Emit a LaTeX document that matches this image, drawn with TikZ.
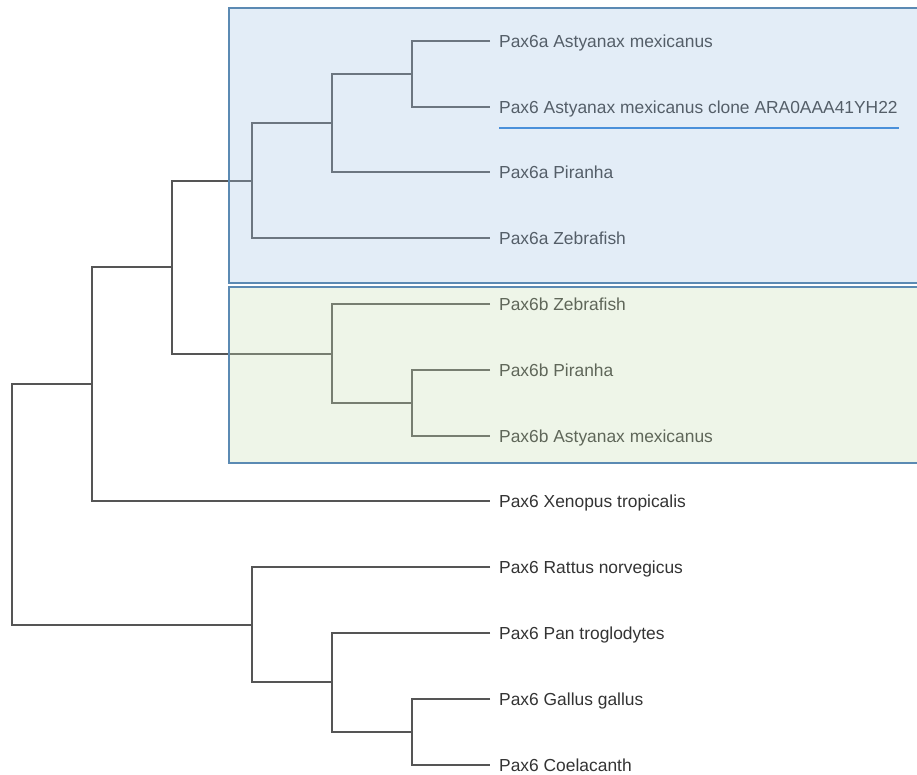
\documentclass[tikz,border=0pt]{standalone}
\usepackage{fontspec}
\setmainfont{Liberation Sans}
\definecolor{branch}{HTML}{555555}
\definecolor{labeltext}{HTML}{333333}
\definecolor{cladeblue}{RGB}{162,195,228}
\definecolor{cladegreen}{RGB}{198,222,178}
\definecolor{cladeedge}{HTML}{5B8AB3}
\definecolor{hiline}{HTML}{4A90DA}
\tikzset{
    leaf/.style={anchor=base west, inner sep=0pt, text=labeltext,
        font=\fontsize{17.4}{20}\selectfont},
    branchline/.style={draw=branch, line width=2pt},
    clade/.style={fill opacity=0.3, draw=none},
}
\begin{document}
\begin{tikzpicture}[x=1pt,y=-1pt]
    \useasboundingbox (0,0) rectangle (917,775);
    \clip (0,0) rectangle (917,775);
    % leaves
    \foreach \i/\y/\name in {1/41/Pax6a Astyanax mexicanus,
        2/107/Pax6 Astyanax mexicanus clone ARA0AAA41YH22,
        3/172/Pax6a Piranha, 4/238/Pax6a Zebrafish, 5/304/Pax6b Zebrafish,
        6/370/Pax6b Piranha, 7/436/Pax6b Astyanax mexicanus,
        8/501/Pax6 Xenopus tropicalis, 9/567/Pax6 Rattus norvegicus,
        10/633/Pax6 Pan troglodytes, 11/699/Pax6 Gallus gallus,
        12/765/Pax6 Coelacanth} {
        \coordinate (t\i) at (490, \y);
        \node[leaf] (l\i) at (499, \y+6.5) {\name};
    }
    % inner nodes
    \coordinate (nA) at (412, 74);
    \coordinate (nB) at (332, 123);
    \coordinate (nC) at (252, 181);
    \coordinate (nD) at (412, 403);
    \coordinate (nE) at (332, 354);
    \coordinate (nF) at (172, 267);
    \coordinate (nG) at (92, 384);
    \coordinate (nJ) at (412, 732);
    \coordinate (nI) at (332, 682);
    \coordinate (nH) at (252, 625);
    \coordinate (root) at (12, 505);
    % branches
    \draw[branchline] (t1) -| (nA) |- (t2);
    \draw[branchline] (nA) -| (nB) |- (t3);
    \draw[branchline] (nB) -| (nC) |- (t4);
    \draw[branchline] (t6) -| (nD) |- (t7);
    \draw[branchline] (t5) -| (nE) |- (nD);
    \draw[branchline] (nC) -| (nF) |- (nE);
    \draw[branchline] (nF) -| (nG) |- (t8);
    \draw[branchline] (t11) -| (nJ) |- (t12);
    \draw[branchline] (t10) -| (nI) |- (nJ);
    \draw[branchline] (t9) -| (nH) |- (nI);
    \draw[branchline] (nG) -| (root) |- (nH);
    % clades
    \fill[clade, fill=cladeblue] (229,8) rectangle (925,283);
    \fill[clade, fill=cladegreen] (229,287) rectangle (925,463);
    \draw[cladeedge, line width=1.2pt] (229,8) rectangle (925,283);
    \draw[cladeedge, line width=1.2pt] (229,287) rectangle (925,463);
    % highlighted sequence
    \draw[hiline, line width=2pt] (l2.base west) ++(0,14.5) -- ++(400,0);
\end{tikzpicture}
\end{document}
